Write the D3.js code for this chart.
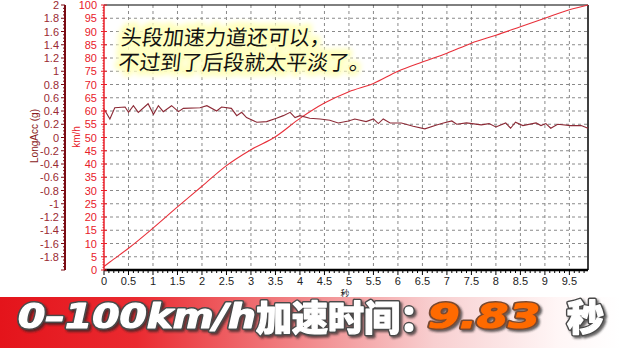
<!DOCTYPE html>
<html>
<head>
<meta charset="utf-8">
<script src="https://cdn.jsdelivr.net/npm/d3@7"></script>
<style>
  body { margin: 0; background: #fff; }
  svg { display: block; font-family: "Liberation Sans", Arial, sans-serif; }
</style>
</head>
<body>
<svg id="chart" width="620" height="348"></svg>
<script>
// speed trace (km/h against seconds)
const speedTime = [0, 0.12, 0.5, 1.0, 1.5, 2.0, 2.5, 3.0, 3.5, 4.0, 4.5, 5.0, 5.5, 6.0, 6.5, 7.0, 7.5, 8.0, 8.5, 9.0, 9.5, 9.88];
const speedKmh = [1.3, 3.0, 8.2, 15.8, 23.8, 31.6, 39.4, 45.4, 50.3, 57.2, 63.0, 67.3, 70.4, 75.0, 78.5, 81.8, 85.6, 88.6, 91.8, 95.0, 98.2, 100];

// longitudinal acceleration trace (g against seconds)
const accTime = [0, 0.12, 0.22, 0.43, 0.5, 0.6, 0.7, 0.9, 1.01, 1.11, 1.21, 1.38, 1.52, 1.62, 1.96, 2.1, 2.3, 2.4, 2.6, 2.71, 2.81, 2.91, 3.12, 3.32, 3.52, 3.66, 3.8, 3.9, 4.0, 4.2, 4.41, 4.61, 4.78, 4.99, 5.12, 5.35, 5.5, 5.6, 5.7, 5.84, 6.07, 6.31, 6.55, 6.79, 6.93, 7.1, 7.2, 7.4, 7.7, 7.86, 8.0, 8.2, 8.3, 8.4, 8.55, 8.82, 8.92, 9.02, 9.12, 9.26, 9.53, 9.74, 9.88];
const longAccG = [0.43, 0.28, 0.45, 0.46, 0.38, 0.48, 0.38, 0.51, 0.35, 0.48, 0.39, 0.48, 0.39, 0.44, 0.45, 0.48, 0.40, 0.46, 0.44, 0.33, 0.38, 0.30, 0.23, 0.24, 0.29, 0.33, 0.38, 0.30, 0.33, 0.29, 0.28, 0.26, 0.22, 0.25, 0.28, 0.24, 0.28, 0.21, 0.28, 0.22, 0.22, 0.17, 0.13, 0.19, 0.22, 0.25, 0.20, 0.22, 0.19, 0.21, 0.16, 0.22, 0.14, 0.23, 0.18, 0.22, 0.18, 0.21, 0.14, 0.20, 0.18, 0.18, 0.14];

// tick labels
const timeTicks = [0, 0.5, 1, 1.5, 2, 2.5, 3, 3.5, 4, 4.5, 5, 5.5, 6, 6.5, 7, 7.5, 8, 8.5, 9, 9.5];
const speedTicks = [0, 5, 10, 15, 20, 25, 30, 35, 40, 45, 50, 55, 60, 65, 70, 75, 80, 85, 90, 95, 100];
const accTicks = [2, 1.8, 1.6, 1.4, 1.2, 1, 0.8, 0.6, 0.4, 0.2, 0, -0.2, -0.4, -0.6, -0.8, -1, -1.2, -1.4, -1.6, -1.8];

const comment = ["头段加速力道还可以，", "不过到了后段就太平淡了。"];
const resultLabel = "0–100km/h";
const resultUnit = "加速时间：";
const resultTime = "9.83";
const resultSec = "秒";

let svg = d3.select('#chart');

// Scales
let x = d3.scaleLinear().domain([0, 9.88]).range([104, 588]);
let ySpeed = d3.scaleLinear().domain([0, 100]).range([270, 5]);
let yAcc = d3.scaleLinear().domain([-2, 2]).range([270, 5]);

let defs = svg.append('defs');
defs.append('filter').attr('id', 'glow')
  .append('feGaussianBlur').attr('stdDeviation', 2.5);
let shadow = defs.append('filter').attr('id', 'shadow')
  .attr('x', '-10%').attr('y', '-20%').attr('width', '130%').attr('height', '150%');
shadow.append('feDropShadow')
  .attr('dx', 2).attr('dy', 2).attr('stdDeviation', 1)
  .attr('flood-color', '#222').attr('flood-opacity', 0.7);
let grad = defs.append('linearGradient').attr('id', 'band')
  .attr('x1', '0').attr('x2', '1').attr('y1', '0').attr('y2', '0');
[[0, '#e4141b'], [0.22, '#ea2a30'], [0.45, '#f07a7d'], [0.7, '#f8cfd0'], [0.9, '#fff6f6'], [1, '#ffffff']]
  .forEach(s => grad.append('stop').attr('offset', s[0]).attr('stop-color', s[1]));

// Grid
svg.append('g')
  .selectAll('line')
  .data(timeTicks.filter(d => d > 0))
  .enter().append('line')
  .attr('x1', d => x(d)).attr('x2', d => x(d))
  .attr('y1', ySpeed(100)).attr('y2', ySpeed(0))
  .attr('stroke', '#8a8a8a').attr('stroke-dasharray', '3,3');
svg.append('g')
  .selectAll('line')
  .data(speedTicks.filter(d => d > 0 && d < 100))
  .enter().append('line')
  .attr('x1', x(0)).attr('x2', x.range()[1])
  .attr('y1', d => ySpeed(d)).attr('y2', d => ySpeed(d))
  .attr('stroke', '#8a8a8a').attr('stroke-dasharray', '3,3');

// Frame top and right
svg.append('line')
  .attr('x1', x(0)).attr('x2', x.range()[1]).attr('y1', 5).attr('y2', 5)
  .attr('stroke', '#000');
svg.append('line')
  .attr('x1', x.range()[1]).attr('x2', x.range()[1]).attr('y1', 5).attr('y2', 270)
  .attr('stroke', '#000').attr('stroke-width', 1.5);

// Comment text with a soft yellow highlight
let note = svg.append('g').attr('transform', 'translate(125,0) skewX(-6)')
  .style('font-family', '"Noto Sans CJK SC", sans-serif')
  .style('font-size', '21px');
note.selectAll('.hl').data(comment).enter().append('text')
  .attr('class', 'hl')
  .attr('x', 0).attr('y', (d, i) => 45 + i * 25)
  .attr('fill', '#ffffc8').attr('stroke', '#ffffc0').attr('stroke-width', 9)
  .attr('stroke-linejoin', 'round')
  .attr('filter', 'url(#glow)')
  .text(d => d);
note.selectAll('.tx').data(comment).enter().append('text')
  .attr('class', 'tx')
  .attr('x', 0).attr('y', (d, i) => 45 + i * 25)
  .attr('fill', '#111')
  .text(d => d);

// Traces
let speedLine = d3.line().x((d, i) => x(speedTime[i])).y(d => ySpeed(d)).curve(d3.curveMonotoneX);
svg.append('path')
  .attr('d', speedLine(speedKmh))
  .attr('fill', 'none').attr('stroke', '#e8303a').attr('stroke-width', 1.1);

let accLine = d3.line().x((d, i) => x(accTime[i])).y(d => yAcc(d));
svg.append('path')
  .attr('d', accLine(longAccG))
  .attr('fill', 'none').attr('stroke', '#8c2a36').attr('stroke-width', 1.1);

// X axis
let xAxis = svg.append('g');
xAxis.append('line')
  .attr('x1', x(0)).attr('x2', x.range()[1]).attr('y1', 270).attr('y2', 270)
  .attr('stroke', '#000').attr('stroke-width', 2.5);
xAxis.selectAll('.minor').data(d3.range(0, 99).map(d => d / 10))
  .enter().append('line').attr('class', 'minor')
  .attr('x1', d => x(d)).attr('x2', d => x(d))
  .attr('y1', 270).attr('y2', d => (Math.round(d * 10) % 5 == 0) ? 275 : 273)
  .attr('stroke', '#000');
xAxis.selectAll('text').data(timeTicks)
  .enter().append('text')
  .attr('x', d => x(d)).attr('y', 285)
  .attr('text-anchor', 'middle')
  .style('font-size', '11px').attr('fill', '#222')
  .text(d => d);
svg.append('text')
  .attr('x', 345).attr('y', 297)
  .attr('text-anchor', 'middle')
  .style('font-family', '"Noto Sans CJK SC", sans-serif')
  .style('font-size', '9px').attr('fill', '#222')
  .text('秒');

// Speed axis (km/h, red)
let sAxis = svg.append('g');
sAxis.append('line')
  .attr('x1', x(0)).attr('x2', x(0)).attr('y1', 5).attr('y2', 270)
  .attr('stroke', '#e8202a').attr('stroke-width', 1.5);
sAxis.selectAll('.minor').data(d3.range(0, 101))
  .enter().append('line').attr('class', 'minor')
  .attr('x1', d => d % 5 == 0 ? x(0) - 3 : x(0) - 1.5)
  .attr('x2', d => d % 5 == 0 ? x(0) + 3 : x(0))
  .attr('y1', d => ySpeed(d)).attr('y2', d => ySpeed(d))
  .attr('stroke', '#e8202a');
sAxis.selectAll('text').data(speedTicks)
  .enter().append('text')
  .attr('x', 97).attr('y', d => ySpeed(d) + 4)
  .attr('text-anchor', 'end')
  .style('font-size', '11px').attr('fill', '#e8202a')
  .text(d => d);
svg.append('text')
  .attr('transform', 'translate(80,137) rotate(-90)')
  .attr('text-anchor', 'middle')
  .style('font-size', '10px').attr('fill', '#e8202a')
  .text('km/h');

// Acceleration axis (g, dark red)
let aAxis = svg.append('g');
aAxis.append('line')
  .attr('x1', 65).attr('x2', 65).attr('y1', 5).attr('y2', 270)
  .attr('stroke', '#7a0c14').attr('stroke-width', 2);
aAxis.selectAll('.minor').data(d3.range(-40, 41).map(d => d / 20))
  .enter().append('line').attr('class', 'minor')
  .attr('x1', d => (Math.round(d * 20) % 4 == 0) ? 61 : 63).attr('x2', 65)
  .attr('y1', d => yAcc(d)).attr('y2', d => yAcc(d))
  .attr('stroke', '#7a0c14');
aAxis.selectAll('text').data(accTicks)
  .enter().append('text')
  .attr('x', 59).attr('y', d => yAcc(d) + 4)
  .attr('text-anchor', 'end')
  .style('font-size', '11px').attr('fill', '#9a2a32')
  .text(d => d);
svg.append('text')
  .attr('transform', 'translate(38,136) rotate(-90)')
  .attr('text-anchor', 'middle')
  .style('font-size', '10px').attr('fill', '#8a1a22')
  .text('LongAcc (g)');

// Result banner
svg.append('rect')
  .attr('x', 0).attr('y', 297).attr('width', 620).attr('height', 51)
  .attr('fill', 'url(#band)');
let banner = svg.append('g')
  .attr('filter', 'url(#shadow)')
  .style('font-weight', 'bold');
// dark outline first, then a white fill with a thin white stroke to make it heavy
let bannerTexts = [
  { text: resultLabel, x: 18, y: 328, len: 238, size: 33, family: '"DejaVu Sans", sans-serif', italic: true, fill: '#fff', edge: '#4a4a4a' },
  { text: resultUnit, x: 256, y: 331, len: 180, size: 35, family: '"Noto Sans CJK SC", sans-serif', italic: false, fill: '#fff', edge: '#4a4a4a' },
  { text: resultTime, x: 428, y: 328, len: 112, size: 33, family: '"DejaVu Sans", sans-serif', italic: true, fill: '#ff6a00', edge: '#7a4a30' },
  { text: resultSec, x: 567, y: 331, len: 37, size: 36, family: '"Noto Sans CJK SC", sans-serif', italic: false, fill: '#fff', edge: '#4a4a4a' }
];
bannerTexts.forEach(b => {
  [[b.edge, 4], [b.fill, 1.2]].forEach(layer => {
    banner.append('text')
      .attr('x', b.x).attr('y', b.y)
      .attr('textLength', b.len).attr('lengthAdjust', 'spacingAndGlyphs')
      .style('font-family', b.family)
      .style('font-size', b.size + 'px')
      .style('font-style', b.italic ? 'italic' : 'normal')
      .style('font-weight', 900)
      .attr('fill', b.fill).attr('stroke', layer[0]).attr('stroke-width', layer[1])
      .attr('stroke-linejoin', 'round')
      .text(b.text);
  });
});
</script>
</body>
</html>
